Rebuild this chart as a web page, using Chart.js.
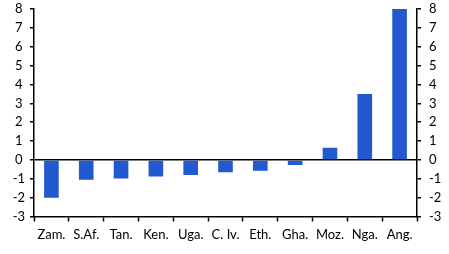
<!DOCTYPE html>
<html><head><meta charset="utf-8">
<script src="https://cdn.jsdelivr.net/npm/chart.js@4"></script>
<style>html,body{margin:0;padding:0;background:#fff}#w{width:449px;height:254px}</style>
</head><body><div id="w"><canvas id="c"></canvas></div>
<script>
const categories = ["Zam.", "S.Af.", "Tan.", "Ken.", "Uga.", "C. Iv.", "Eth.", "Gha.", "Moz.", "Nga.", "Ang."];
const values = [-2.0, -1.05, -0.98, -0.88, -0.8, -0.65, -0.57, -0.27, 0.65, 3.5, 8.0];
const yTicks = [-3, -2, -1, 0, 1, 2, 3, 4, 5, 6, 7, 8];

const font = {family: "Lato, sans-serif", size: 13};
const yAxis = (pos) => ({
  position: pos, min: -3, max: 8,
  afterBuildTicks: s => { s.ticks = yTicks.map(v => ({value: v})); },
  afterFit: s => { s.width = pos === 'left' ? 34 : 32; s.paddingTop = 0; s.paddingBottom = 0; },
  ticks: {color: '#000', font, autoSkip: false, padding: pos === 'left' ? 5 : 8, crossAlign: pos === 'left' ? 'center' : 'near'},
  border: {color: '#000', width: 1.5},
  grid: {
    drawOnChartArea: pos === 'left',
    color: c => (c.tick && c.tick.value === 0) ? '#000' : 'rgba(0,0,0,0)',
    lineWidth: 1.5,
    tickColor: '#000', tickLength: 4, tickWidth: 1.5
  }
});
new Chart(document.getElementById('c'), {
  type: 'bar',
  data: {labels: categories, datasets: [{data: values, backgroundColor: '#2259d1', barPercentage: 0.42, categoryPercentage: 1}]},
  options: {
    responsive: true, maintainAspectRatio: false, animation: false,
    layout: {padding: {top: 9, left: 0, right: 0, bottom: 0}},
    plugins: {legend: {display: false}, tooltip: {enabled: false}},
    scales: {
      x: {
        afterFit: s => { s.height = 37.5; s.paddingLeft = 0; s.paddingRight = 0; },
        ticks: {color: '#000', font, padding: 6, maxRotation: 0, autoSkip: false},
        border: {color: '#000', width: 1.5},
        grid: {drawOnChartArea: false, offset: true, tickColor: '#000', tickLength: 5, tickWidth: 1.5}
      },
      y: yAxis('left'),
      y2: yAxis('right')
    }
  }
});
</script></body></html>
